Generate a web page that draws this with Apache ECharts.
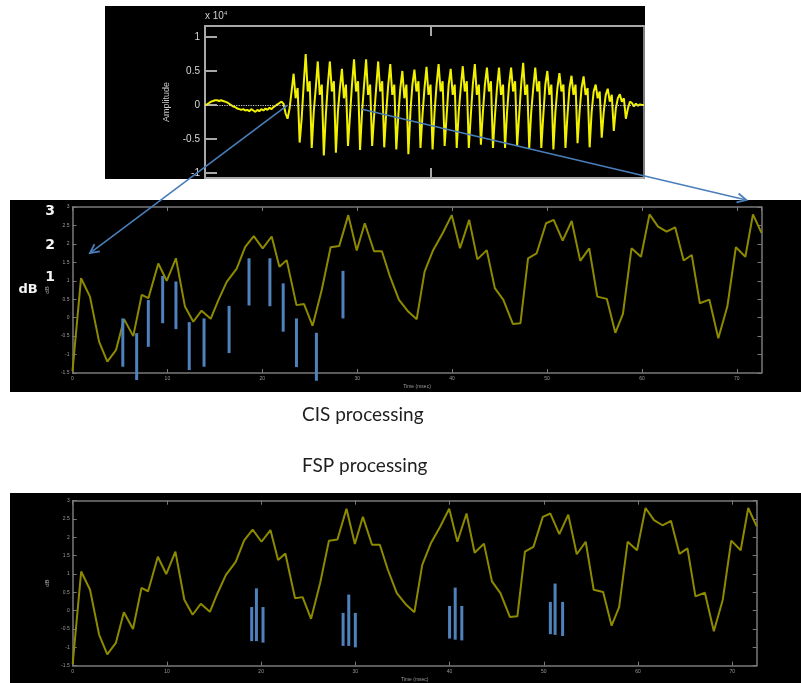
<!DOCTYPE html>
<html><head><meta charset="utf-8">
<script src="https://cdn.jsdelivr.net/npm/echarts@6/dist/echarts.min.js"></script>
<style>html,body{margin:0;padding:0;background:#fff}#c{width:801px;height:683px}</style>
</head><body><div id="c"></div>
<script>
// ---- top panel: speech waveform amplitude (x 10^4), one value per sample ----
const waveAmp = [
  0, 0.01, 0.03, 0.05, 0.06, 0.07, 0.07, 0.06, 0.07, 0.06,
  0.05, 0.04, 0.02, 0.0, -0.02, -0.03, -0.05, -0.06, -0.07, -0.06,
  -0.08, -0.07, -0.09, -0.06, -0.08, -0.1, -0.07, -0.09, -0.06, -0.08,
  -0.05, -0.07, -0.04, -0.06, -0.03, -0.01, 0.01, 0.03, 0.05, 0.02,
  -0.12, -0.2, -0.05, 0.2,
  0.46, 0.1, 0.25, -0.55, -0.2, 0.3,
  0.75, 0.2, 0.35, -0.63, -0.1, 0.25,
  0.64, 0.15, 0.3, -0.74, -0.15, 0.3,
  0.64, 0.2, 0.35, -0.7, -0.1, 0.25,
  0.53, 0.1, 0.3, -0.6, -0.15, 0.3,
  0.67, 0.2, 0.35, -0.66, -0.1, 0.3,
  0.67, 0.15, 0.3, -0.6, -0.15, 0.25,
  0.64, 0.2, 0.35, -0.62, -0.1, 0.3,
  0.6, 0.15, 0.3, -0.65, -0.15, 0.25,
  0.5, 0.1, 0.3, -0.72, -0.1, 0.3,
  0.52, 0.2, 0.35, -0.63, -0.15, 0.25,
  0.56, 0.15, 0.3, -0.65, -0.1, 0.3,
  0.6, 0.2, 0.35, -0.6, -0.15, 0.3,
  0.53, 0.15, 0.3, -0.63, -0.1, 0.25,
  0.57, 0.2, 0.35, -0.63, -0.15, 0.3,
  0.6, 0.15, 0.3, -0.58, -0.1, 0.3,
  0.55, 0.2, 0.35, -0.63, -0.15, 0.25,
  0.55, 0.15, 0.3, -0.63, -0.1, 0.3,
  0.55, 0.2, 0.35, -0.6, -0.15, 0.3,
  0.62, 0.15, 0.3, -0.63, -0.1, 0.25,
  0.55, 0.2, 0.35, -0.63, -0.15, 0.3,
  0.5, 0.15, 0.3, -0.65, -0.1, 0.25,
  0.47, 0.2, 0.3, -0.63, -0.15, 0.25,
  0.43, 0.15, 0.3, -0.56, -0.1, 0.25,
  0.42, 0.15, 0.25, -0.62, -0.1, 0.2,
  0.3, 0.1, 0.2, -0.48, -0.1, 0.15,
  0.24, 0.05, 0.15, -0.38, -0.05, 0.1,
  0.16, 0.05, 0.1, -0.2, -0.05, 0.05,
  0.03, -0.02, 0.02, -0.01, 0.01, 0, 0
];
const ampTicks = [-1, -0.5, 0, 0.5, 1];

// ---- envelope in dB vs time (msec), shared by CIS and FSP panels ----
const envTime = [0, 0.9, 1.84, 2.8, 3.67, 4.58, 5.43, 6.4, 7.3, 8.0, 9.04, 9.93, 10.9, 11.85, 12.73, 13.6, 14.56, 15.36, 16.25, 17.3, 18.2, 19.1, 20.04, 20.99, 21.8, 22.57, 23.6, 24.4, 25.3, 26.26, 27.2, 28.1, 29.06, 29.95, 30.8, 31.77, 32.6, 33.46, 34.4, 35.4, 36.27, 37.1, 38.0, 39.0, 39.96, 40.83, 41.8, 42.66, 43.65, 44.5, 45.4, 46.4, 47.2, 48.0, 48.9, 49.9, 50.7, 51.65, 52.6, 53.5, 54.45, 55.3, 56.3, 57.2, 58.0, 58.9, 59.9, 60.8, 61.7, 62.6, 63.5, 64.4, 65.25, 66.1, 67.1, 68.05, 69.0, 69.9, 70.9, 71.7, 72.6];
const envDb = [-1.45, 1.07, 0.57, -0.65, -1.19, -0.88, -0.04, -0.5, 0.62, 0.53, 1.47, 1.0, 1.61, 0.3, -0.11, 0.19, -0.03, 0.47, 0.97, 1.33, 1.92, 2.21, 1.88, 2.2, 1.38, 1.56, 0.34, 0.37, -0.22, 0.75, 1.91, 1.94, 2.78, 1.82, 2.56, 1.8, 1.8, 1.11, 0.48, 0.16, -0.04, 1.25, 1.83, 2.29, 2.78, 1.88, 2.65, 1.58, 1.83, 0.8, 0.48, -0.17, -0.15, 1.61, 1.74, 2.56, 2.65, 2.09, 2.62, 1.54, 1.88, 0.57, 0.51, -0.41, 0.1, 1.88, 1.65, 2.8, 2.47, 2.33, 2.45, 1.55, 1.7, 0.39, 0.49, -0.56, 0.3, 1.91, 1.65, 2.8, 2.3];

// ---- CIS stimulation pulses: time, top, bottom ----
const cisPulseTime = [5.3, 6.76, 7.99, 9.5, 10.9, 12.3, 13.86, 16.5, 18.6, 20.8, 22.2, 23.6, 25.7, 28.5];
const cisPulseTop = [-0.02, -0.42, 0.48, 1.13, 0.98, -0.12, -0.02, 0.32, 1.61, 1.61, 0.93, -0.02, -0.41, 1.27];
const cisPulseBottom = [-1.33, -1.69, -0.79, -0.15, -0.31, -1.42, -1.33, -0.96, 0.33, 0.31, -0.38, -1.34, -1.71, -0.02];

// ---- FSP stimulation pulses ----
const fspPulseTime = [19.0, 19.5, 20.2, 28.7, 29.3, 30.0, 40.0, 40.6, 41.3, 50.7, 51.2, 52.0];
const fspPulseTop = [0.1, 0.61, 0.1, -0.06, 0.44, -0.06, 0.13, 0.63, 0.13, 0.24, 0.74, 0.24];
const fspPulseBottom = [-0.83, -0.83, -0.87, -0.96, -0.96, -1.0, -0.76, -0.79, -0.81, -0.64, -0.66, -0.69];

const bigDbLabels = ['3', '2', '1', 'dB'];
const bigDbLevels = [2.89, 1.97, 1.1, 0.75];

// ---------- build ----------
const waveData = waveAmp.map((v, i) => [i, v]);
const envData = envTime.map((t, i) => [t, envDb[i]]);
const cisPulses = cisPulseTime.map((t, i) => [t, cisPulseTop[i], cisPulseBottom[i]]);
const fspPulses = fspPulseTime.map((t, i) => [t, fspPulseTop[i], fspPulseBottom[i]]);

const chart = echarts.init(document.getElementById('c'), null, {renderer: 'canvas'});

const smallGray = '#9a9a9a';
const boxColor = '#7a7a7a';
function envAxesX(grid) {
  return [{
    gridIndex: grid, type: 'value', min: 0, max: 72.6, interval: 10, position: 'bottom',
    axisLine: {show: true, onZero: false, lineStyle: {color: boxColor, width: 1.5}},
    axisTick: {show: true, inside: true, length: 4, lineStyle: {color: boxColor}},
    axisLabel: {show: true, fontSize: 5, color: smallGray, margin: 3, showMaxLabel: false},
    splitLine: {show: false},
    name: 'Time (msec)', nameLocation: 'middle', nameGap: 11,
    nameTextStyle: {fontSize: 5, color: smallGray}
  }, {
    gridIndex: grid, type: 'value', min: 0, max: 72.6, interval: 10, position: 'top',
    axisLine: {show: true, onZero: false, lineStyle: {color: boxColor, width: 1.5}},
    axisTick: {show: true, inside: true, length: 4, lineStyle: {color: boxColor}},
    axisLabel: {show: false}, splitLine: {show: false}
  }];
}
function envAxesY(grid) {
  return [{
    gridIndex: grid, type: 'value', min: -1.5, max: 3, interval: 0.5, position: 'left',
    axisLine: {show: true, onZero: false, lineStyle: {color: boxColor, width: 1.5}},
    axisTick: {show: true, inside: true, length: 4, lineStyle: {color: boxColor}},
    axisLabel: {show: true, fontSize: 5, color: smallGray, margin: 3},
    splitLine: {show: false},
    name: 'dB', nameLocation: 'middle', nameGap: 17, nameRotate: 90,
    nameTextStyle: {fontSize: 6, color: '#aaa'}
  }, {
    gridIndex: grid, type: 'value', min: -1.5, max: 3, interval: 0.5, position: 'right',
    axisLine: {show: true, onZero: false, lineStyle: {color: boxColor, width: 1.5}},
    axisTick: {show: true, inside: true, length: 4, lineStyle: {color: boxColor}},
    axisLabel: {show: false}, splitLine: {show: false}
  }];
}

function pulseRender(params, api) {
  const p1 = api.coord([api.value(0), api.value(1)]);
  const p2 = api.coord([api.value(0), api.value(2)]);
  return {type: 'rect', shape: {x: p1[0] - 1.5, y: p1[1], width: 3, height: p2[1] - p1[1]},
          style: {fill: '#4f81bd'}};
}

const topBox = '#a8a8a8';
const option = {
  backgroundColor: '#ffffff',
  animation: false,
  grid: [
    {left: 205, top: 26, width: 439, height: 152},
    {left: 72.5, top: 207, width: 689, height: 166},
    {left: 72.7, top: 500.7, width: 684, height: 165}
  ],
  xAxis: [
    {gridIndex: 0, type: 'value', min: 0, max: 218, position: 'bottom',
     axisLine: {show: true, onZero: false, lineStyle: {color: topBox, width: 2}},
     axisTick: {show: true, inside: true, length: 10, customValues: [112], lineStyle: {color: topBox, width: 2}},
     axisLabel: {show: false}, splitLine: {show: false}},
    {gridIndex: 0, type: 'value', min: 0, max: 218, position: 'top',
     axisLine: {show: true, onZero: false, lineStyle: {color: topBox, width: 2}},
     axisTick: {show: true, inside: true, length: 10, customValues: [112], lineStyle: {color: topBox, width: 2}},
     axisLabel: {show: false}, splitLine: {show: false}},
    ...envAxesX(1),
    ...envAxesX(2)
  ],
  yAxis: [
    {gridIndex: 0, type: 'value', min: -1.07, max: 1.16, position: 'left',
     axisLine: {show: true, onZero: false, lineStyle: {color: topBox, width: 2}},
     axisTick: {show: true, inside: true, length: 12, customValues: ampTicks, lineStyle: {color: topBox, width: 2}},
     axisLabel: {show: true, customValues: ampTicks, fontSize: 10, color: '#d8d8d8', margin: 5, fontFamily: 'Liberation Sans'},
     splitLine: {show: false},
     name: 'Amplitude', nameLocation: 'middle', nameGap: 34, nameRotate: 90,
     nameTextStyle: {fontSize: 9, color: '#c8c8c8', fontFamily: 'Liberation Sans'}},
    {gridIndex: 0, type: 'value', min: -1.07, max: 1.16, position: 'right',
     axisLine: {show: true, onZero: false, lineStyle: {color: topBox, width: 1.5}},
     axisTick: {show: false}, axisLabel: {show: false}, splitLine: {show: false}},
    ...envAxesY(1),
    ...envAxesY(2)
  ],
  series: [
    {type: 'line', xAxisIndex: 0, yAxisIndex: 0, data: waveData, symbol: 'none',
     lineStyle: {color: '#f2f200', width: 2}, z: 3,
     markLine: {silent: true, symbol: 'none', label: {show: false},
       lineStyle: {color: '#c8c8c8', type: 'dotted', width: 1.2}, data: [{yAxis: 0}]}},
    {type: 'line', xAxisIndex: 2, yAxisIndex: 2, data: envData, symbol: 'none',
     lineStyle: {color: '#8e8a00', width: 2}},
    {type: 'custom', xAxisIndex: 2, yAxisIndex: 2, data: cisPulses, renderItem: pulseRender,
     encode: {x: 0, y: [1, 2]}, z: 4},
    {type: 'line', xAxisIndex: 4, yAxisIndex: 4, data: envData, symbol: 'none',
     lineStyle: {color: '#8e8a00', width: 2}},
    {type: 'custom', xAxisIndex: 4, yAxisIndex: 4, data: fspPulses, renderItem: pulseRender,
     encode: {x: 0, y: [1, 2]}, z: 4}
  ],
  graphic: [
    {type: 'rect', z: -100, shape: {x: 105, y: 6, width: 540, height: 173}, style: {fill: '#000'}},
    {type: 'rect', z: -100, shape: {x: 10, y: 200, width: 791, height: 192}, style: {fill: '#000'}},
    {type: 'rect', z: -100, shape: {x: 10, y: 493, width: 791, height: 190}, style: {fill: '#000'}},
    {type: 'text', z: 10, left: 205, top: 10,
     style: {text: 'x 10{s|4}', fill: '#d0d0d0', fontSize: 10, fontFamily: 'Liberation Sans',
       rich: {s: {fontSize: 6, verticalAlign: 'top', padding: [0, 0, 6, 0], fill: '#d0d0d0'}}}},
    {type: 'text', z: 10, left: 302, top: 405,
     style: {text: 'CIS processing', fill: '#1e1e1e', fontSize: 19, fontFamily: 'Lato'}},
    {type: 'text', z: 10, left: 302, top: 456,
     style: {text: 'FSP processing', fill: '#1e1e1e', fontSize: 19, fontFamily: 'Lato'}}
  ]
};
chart.setOption(option);

// annotations positioned through the axes
const extra = [];
bigDbLabels.forEach((lab, i) => {
  const p = chart.convertToPixel({gridIndex: 1}, [0, bigDbLevels[i]]);
  const isUnit = lab === 'dB';
  extra.push({type: 'text', z: 10, x: isUnit ? 28 : 50, y: p[1],
    style: {text: lab, fill: '#f4f4f4', fontSize: isUnit ? 13 : 14, fontWeight: 'bold', fontFamily: 'DejaVu Sans',
      align: 'center', verticalAlign: 'middle'}});
});
function arrow(a, b) {
  const dx = b[0] - a[0], dy = b[1] - a[1];
  const L = Math.hypot(dx, dy), ux = dx / L, uy = dy / L;
  const h = 9, w = 4.5;
  const bx = b[0] - ux * h, by = b[1] - uy * h;
  extra.push({type: 'line', z: 20, shape: {x1: a[0], y1: a[1], x2: b[0], y2: b[1]},
    style: {stroke: '#4a7ebb', lineWidth: 1.6}});
  extra.push({type: 'polyline', z: 20,
    shape: {points: [[bx - uy * w, by + ux * w], [b[0], b[1]], [bx + uy * w, by - ux * w]]},
    style: {stroke: '#4a7ebb', lineWidth: 1.8, fill: null}});
}
arrow(chart.convertToPixel({gridIndex: 0}, [41, 0]), chart.convertToPixel({gridIndex: 1}, [1.84, 1.75]));
arrow(chart.convertToPixel({gridIndex: 0}, [78, -0.06]), chart.convertToPixel({gridIndex: 1}, [71.0, 3.19]));
chart.setOption({graphic: option.graphic.concat(extra)});
</script></body></html>
